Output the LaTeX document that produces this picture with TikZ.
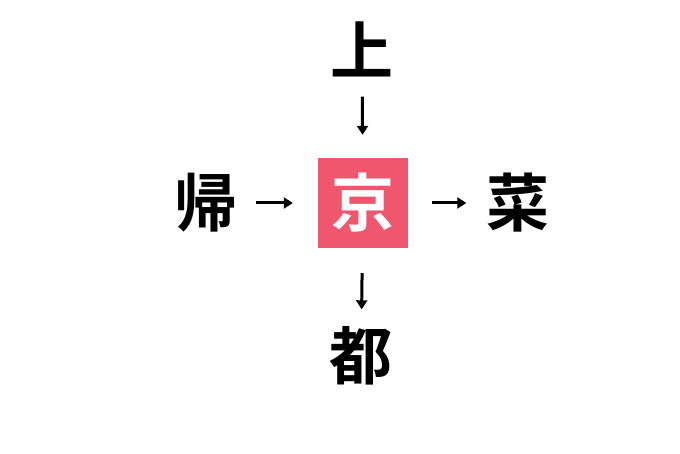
\documentclass[tikz,border=0pt]{standalone}
\usepackage{tikz}
\usetikzlibrary{positioning, arrows.meta}
\usepackage{fontspec}
\newfontfamily\cjk{Noto Sans CJK JP Bold}
\usepackage{xcolor}
\definecolor{xpink}{HTML}{F0566E}

\begin{document}
\begin{tikzpicture}[x=1pt, y=1pt,
		kanji/.style={font=\cjk\fontsize{63}{63}\selectfont, inner sep=0pt, text height=55pt, text depth=8pt},
		arr/.style={line width=3pt, -{Triangle[length=9pt, width=11pt]}},
	]
		\useasboundingbox (0,0) rectangle (680,453);

		\node (kyo) [kanji, fill=xpink, text=white, minimum size=90pt] at (363,250) {京};
		\node (ue) [kanji] at (362,402) {上};
		\node (kaeru) [kanji] at (206,250) {帰};
		\node (sai) [kanji] at (518,250) {菜};
		\node (to) [kanji] at (361,97) {都};

		\draw[arr, shorten <=14pt, shorten >=23pt] (ue) -- (kyo);
		\draw[arr, shorten <=18pt, shorten >=25pt] (kaeru) -- (kyo);
		\draw[arr, shorten <=24pt, shorten >=20pt] (kyo) -- (sai);
		\draw[arr, shorten <=25pt, shorten >=15pt] (kyo) -- (to);
	\end{tikzpicture}
\end{document}
